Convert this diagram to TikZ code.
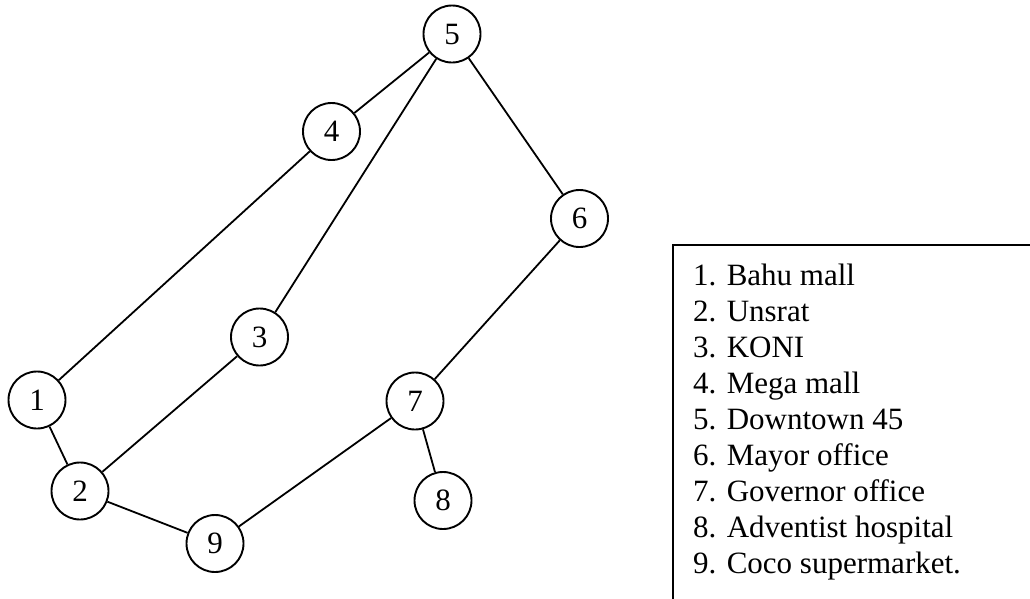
\documentclass[tikz,border=0pt]{standalone}
\usepackage{fontspec}
\setmainfont{Liberation Serif}
\begin{document}
\begin{tikzpicture}[x=1pt,y=-1pt,
  vert/.style={circle,draw,line width=1.9pt,minimum size=57pt,inner sep=0pt,font=\fontsize{31}{36}\selectfont},
  edge/.style={line width=1.8pt},
  legtext/.style={anchor=base west,inner sep=0pt,font=\fontsize{31}{36}\selectfont}]
\useasboundingbox (0,0) rectangle (1030,598);
\node[vert] (n1) at (37,400) {1};
\node[vert] (n2) at (80,491) {2};
\node[vert] (n3) at (259.5,337) {3};
\node[vert] (n4) at (331.5,131.5) {4};
\node[vert] (n5) at (452,34) {5};
\node[vert] (n6) at (579.5,218.5) {6};
\node[vert] (n7) at (415,401) {7};
\node[vert] (n8) at (443,500.5) {8};
\node[vert] (n9) at (215,543.5) {9};
\draw[edge] (n5) -- (n4);
\draw[edge] (n5) -- (n3);
\draw[edge] (n5) -- (n6);
\draw[edge] (n4) -- (n1);
\draw[edge] (n3) -- (n2);
\draw[edge] (n6) -- (n7);
\draw[edge] (n1) -- (n2);
\draw[edge] (n2) -- (n9);
\draw[edge] (n9) -- (n7);
\draw[edge] (n7) -- (n8);
\coordinate (boxtr) at (1040,245);
\coordinate (boxtl) at (673,245);
\coordinate (boxbl) at (673,610);
\draw[line width=1.6pt] (boxtr) -- (boxtl) -- (boxbl);
\foreach \t [count=\i from 0] in {1. Bahu mall,2. Unsrat,3. KONI,4. Mega mall,5. Downtown 45,6. Mayor office,7. Governor office,8. Adventist hospital,9. Coco supermarket.}
  \node[legtext] (leg\i) at (693,285+36*\i) {\t};
\end{tikzpicture}
\end{document}
